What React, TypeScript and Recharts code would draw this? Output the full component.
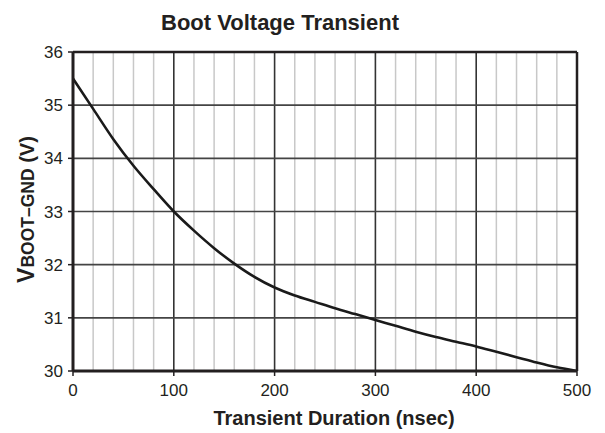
import React from "react";
import { LineChart, Line, XAxis, YAxis, ReferenceLine, Label } from "recharts";

const durationNs = [0, 20, 40, 60, 80, 100, 120, 140, 160, 180, 200, 220, 240, 260, 280, 300, 320, 340, 360, 380, 400, 420, 440, 460, 480, 500];
const bootVoltage = [35.5, 34.93, 34.36, 33.86, 33.42, 33.0, 32.64, 32.31, 32.02, 31.77, 31.57, 31.42, 31.3, 31.18, 31.07, 30.96, 30.85, 30.74, 30.64, 30.55, 30.46, 30.36, 30.26, 30.16, 30.07, 30.0];
const xTicks = [0, 100, 200, 300, 400, 500];
const yTicks = [30, 31, 32, 33, 34, 35, 36];
const xMinor = [20, 40, 60, 80, 120, 140, 160, 180, 220, 240, 260, 280, 320, 340, 360, 380, 420, 440, 460, 480];
const xMajor = [100, 200, 300, 400];
const yMajor = [31, 32, 33, 34, 35];

const data = durationNs.map((t, i) => ({ t, v: bootVoltage[i] }));

const FONT = "'Liberation Sans', Arial, Helvetica, sans-serif";
const INK = "#231f20";

const YLabel = (props: any) => {
  const vb = props.viewBox || { x: 0, y: 0, width: 0, height: 0 };
  const cx = 34;
  const cy = vb.y + vb.height / 2 - 2;
  return (
    <text
      x={cx}
      y={cy}
      transform={`rotate(-90, ${cx}, ${cy})`}
      textAnchor="middle"
      fontFamily={FONT}
      fontWeight="bold"
      fill={INK}
    >
      <tspan fontSize={23}>V</tspan>
      <tspan fontSize={17.5}>BOOT–GND</tspan>
      <tspan fontSize={20}> (V)</tspan>
    </text>
  );
};

const XLabel = (props: any) => {
  const vb = props.viewBox || { x: 0, y: 0, width: 0, height: 0 };
  return (
    <text
      x={vb.x + vb.width / 2 + 9}
      y={vb.y + 54}
      textAnchor="middle"
      fontFamily={FONT}
      fontWeight="bold"
      fontSize={20}
      fill={INK}
    >
      Transient Duration (nsec)
    </text>
  );
};

export default function App() {
  return (
    <div style={{ position: "absolute", left: 0, top: 0, width: 605, height: 433, background: "#fff" }}>
      <LineChart
        width={605}
        height={433}
        data={data}
        margin={{ top: 52, right: 28, bottom: 32, left: 0 }}
      >
        {xMinor.map((x) => (
          <ReferenceLine key={`mn${x}`} x={x} stroke="#c8c8c8" strokeWidth={1.5} ifOverflow="visible" />
        ))}
        {xMajor.map((x) => (
          <ReferenceLine key={`mj${x}`} x={x} stroke="#333" strokeWidth={1.6} ifOverflow="visible" />
        ))}
        {yMajor.map((y) => (
          <ReferenceLine key={`hy${y}`} y={y} stroke="#444" strokeWidth={1.6} ifOverflow="visible" />
        ))}
        <ReferenceLine x={500} stroke={INK} strokeWidth={2.5} ifOverflow="visible" />
        <ReferenceLine y={36} stroke={INK} strokeWidth={2.5} ifOverflow="visible" />
        <XAxis
          dataKey="t"
          type="number"
          domain={[0, 500]}
          ticks={xTicks}
          interval={0}
          height={30}
          tickSize={5}
          tickMargin={8}
          axisLine={{ stroke: INK, strokeWidth: 3 }}
          tickLine={{ stroke: INK, strokeWidth: 1.5 }}
          tick={{ fill: INK, fontSize: 17, fontFamily: FONT }}
          allowDataOverflow
        >
          <Label content={XLabel} />
        </XAxis>
        <YAxis
          type="number"
          domain={[30, 36]}
          ticks={yTicks}
          interval={0}
          width={73}
          tickSize={5}
          tickMargin={5}
          axisLine={{ stroke: INK, strokeWidth: 3 }}
          tickLine={{ stroke: INK, strokeWidth: 1.5 }}
          tick={{ fill: INK, fontSize: 17, fontFamily: FONT }}
          allowDataOverflow
        >
          <Label content={YLabel} />
        </YAxis>
        <Line
          type="monotone"
          dataKey="v"
          stroke="#1a1a1a"
          strokeWidth={2.6}
          dot={false}
          isAnimationActive={false}
        />
      </LineChart>
      <svg
        width={605}
        height={40}
        style={{ position: "absolute", left: 0, top: 0, pointerEvents: "none" }}
      >
        <text
          x={280}
          y={30}
          textAnchor="middle"
          fontFamily={FONT}
          fontWeight="bold"
          fontSize={22}
          fill={INK}
        >
          Boot Voltage Transient
        </text>
      </svg>
    </div>
  );
}
